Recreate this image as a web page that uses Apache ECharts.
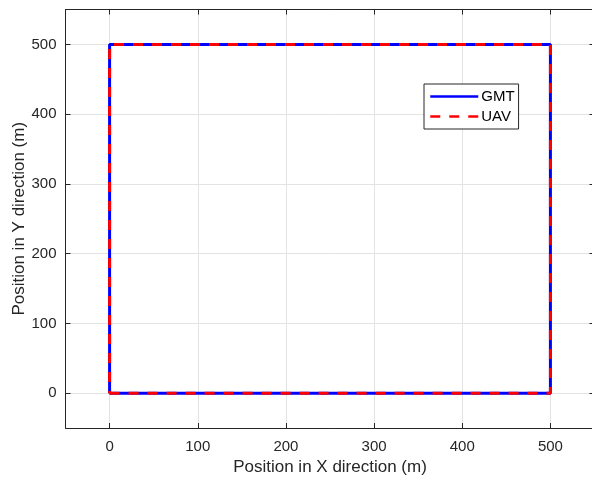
<!DOCTYPE html>
<html><head><meta charset="utf-8">
<script src="https://cdn.jsdelivr.net/npm/echarts@6/dist/echarts.min.js"></script>
<style>html,body{margin:0;padding:0;background:#fff}#c{width:592px;height:482px}</style>
</head><body><div id="c"></div>
<script>
const gmtX = [0, 500, 500, 0, 0];
const gmtY = [0, 0, 500, 500, 0];
const uavX = [0, 500, 500, 0, 0];
const uavY = [0, 0, 500, 500, 0];
const xTicks = [0, 100, 200, 300, 400, 500];
const yTicks = [0, 100, 200, 300, 400, 500];

const font = 'Liberation Sans, Arial, Helvetica, sans-serif';
const pair = (xs, ys) => xs.map((x, i) => [x, ys[i]]);
const mk = (ticks, extra) => Object.assign({
  type: 'value', min: -50, max: 550,
  axisLine: {show: true, onZero: false, lineStyle: {color: '#262626', width: 1}},
  axisTick: {show: true, inside: true, length: 5, lineStyle: {color: '#262626'}, customValues: ticks},
  axisLabel: {show: false, customValues: ticks},
  splitLine: {show: false}
}, extra);

const chart = echarts.init(document.getElementById('c'), null, {renderer: 'canvas'});
chart.setOption({
  animation: false,
  backgroundColor: '#fff',
  grid: {left: 65.5, top: 9.5, width: 529, height: 418.5, containLabel: false, outerBoundsMode: 'none'},
  xAxis: [
    mk(xTicks, {
      position: 'bottom',
      name: 'Position in X direction (m)', nameLocation: 'middle', nameGap: 31,
      nameTextStyle: {fontFamily: font, fontSize: 17, color: '#262626'},
      axisLabel: {show: true, fontFamily: font, fontSize: 15, color: '#262626', margin: 11, customValues: xTicks},
      splitLine: {show: true, lineStyle: {color: '#e3e3e3', width: 1}}
    }),
    mk(xTicks, {position: 'top'})
  ],
  yAxis: [
    mk(yTicks, {
      position: 'left',
      name: 'Position in Y direction (m)', nameLocation: 'middle', nameGap: 38, nameMoveOverlap: false,
      nameTextStyle: {fontFamily: font, fontSize: 17, color: '#262626'},
      axisLabel: {show: true, fontFamily: font, fontSize: 15, color: '#262626', margin: 9, customValues: yTicks},
      splitLine: {show: true, lineStyle: {color: '#e3e3e3', width: 1}}
    }),
    mk(yTicks, {position: 'right'})
  ],
  legend: {
    left: 424, top: 84, orient: 'vertical',
    padding: [5, 4, 5, 5], itemGap: 5,
    itemWidth: 48, itemHeight: 14,
    backgroundColor: '#fff', borderColor: '#262626', borderWidth: 1, borderRadius: 0,
    textStyle: {fontFamily: font, fontSize: 15, color: '#000', padding: [0, 0, 0, -2]},
    itemStyle: {opacity: 0},
    lineStyle: {width: 2.5},
    data: ['GMT', 'UAV']
  },
  series: [
    {name: 'GMT', type: 'line', data: pair(gmtX, gmtY), showSymbol: false, symbol: 'none',
     lineStyle: {color: '#0000ff', width: 3, type: 'solid'}, itemStyle: {color: '#0000ff'}, z: 2},
    {name: 'UAV', type: 'line', data: pair(uavX, uavY), showSymbol: false, symbol: 'none',
     lineStyle: {color: '#ff0000', width: 3, type: [10, 9]}, itemStyle: {color: '#ff0000'}, z: 3}
  ]
});
</script></body></html>
